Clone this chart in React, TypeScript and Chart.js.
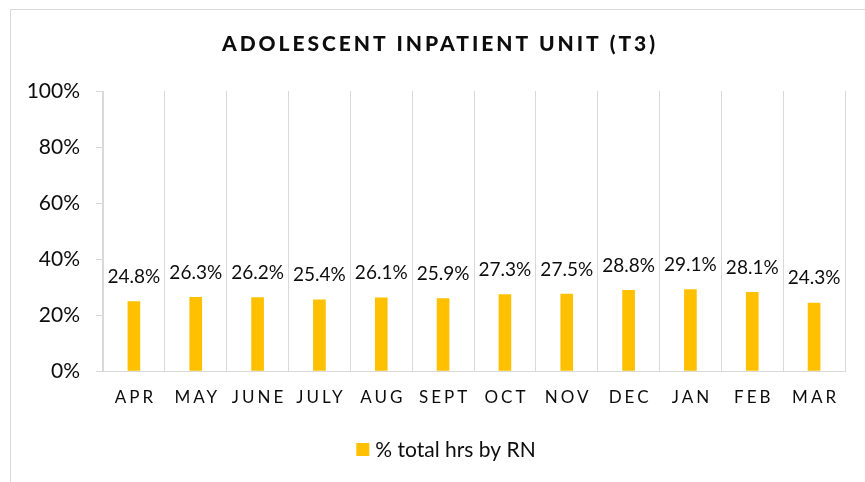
import React, { useEffect, useRef } from 'react';
import { Chart, registerables } from 'chart.js';
Chart.register(...registerables);

const months = ['APR', 'MAY', 'JUNE', 'JULY', 'AUG', 'SEPT', 'OCT', 'NOV', 'DEC', 'JAN', 'FEB', 'MAR'];
const rnShare = [24.8, 26.3, 26.2, 25.4, 26.1, 25.9, 27.3, 27.5, 28.8, 29.1, 28.1, 24.3];
const yTicks = [0, 20, 40, 60, 80, 100];
const chartTitle = 'ADOLESCENT INPATIENT UNIT (T3)';
const seriesName = '% total hrs by RN';

const BAR = '#FFC000';
const GRID = '#d9d9d9';
const TEXT = '#0d0d0d';
const FONT = 'Lato';

function spacedText(ctx: CanvasRenderingContext2D, text: string, cx: number, y: number, ls: number) {
  ctx.letterSpacing = '0px';
  const w0 = ctx.measureText(text).width;
  const vis = w0 + ls * (text.length - 1);
  ctx.letterSpacing = ls + 'px';
  ctx.textAlign = 'left';
  ctx.fillText(text, cx - vis / 2, y);
  ctx.letterSpacing = '0px';
}

const decor = {
  id: 'decor',
  beforeDraw(chart: any) {
    const ctx = chart.ctx as CanvasRenderingContext2D;
    ctx.save();
    ctx.fillStyle = '#ffffff';
    ctx.fillRect(0, 0, chart.width, chart.height);
    ctx.strokeStyle = GRID;
    ctx.lineWidth = 1;
    ctx.beginPath();
    ctx.moveTo(10.5, chart.height);
    ctx.lineTo(10.5, 9.5);
    ctx.lineTo(chart.width, 9.5);
    ctx.stroke();
    ctx.restore();
  },
  afterDraw(chart: any) {
    const ctx = chart.ctx as CanvasRenderingContext2D;
    ctx.save();
    ctx.fillStyle = TEXT;
    ctx.textBaseline = 'alphabetic';

    // title
    ctx.font = `900 21px ${FONT}`;
    ctx.letterSpacing = '0px';
    const tw = ctx.measureText(chartTitle).width;
    const tls = (433 - tw) / (chartTitle.length - 1);
    spacedText(ctx, chartTitle, 438.5, 51, tls);

    // x labels
    const xs = chart.scales.x;
    ctx.font = `17px ${FONT}`;
    months.forEach((m, i) => {
      spacedText(ctx, m, xs.getPixelForValue(i), 403, 3);
    });

    // data labels
    const meta = chart.getDatasetMeta(0);
    ctx.font = `19px ${FONT}`;
    ctx.textAlign = 'center';
    meta.data.forEach((el: any, i: number) => {
      ctx.fillText(rnShare[i].toFixed(1) + '%', el.x, el.y - 18.5);
    });

    // legend
    ctx.font = `21px ${FONT}`;
    const lw = ctx.measureText(seriesName).width;
    const box = 13;
    const gap = 6;
    const total = box + gap + lw;
    const lx = 446 - total / 2;
    ctx.fillStyle = BAR;
    ctx.fillRect(lx, 443, box, box);
    ctx.fillStyle = TEXT;
    ctx.textAlign = 'left';
    ctx.fillText(seriesName, lx + box + gap, 457);
    ctx.restore();
  },
};

export default function App() {
  const ref = useRef<HTMLCanvasElement>(null);
  useEffect(() => {
    if (!ref.current) return;
    const chart = new Chart(ref.current, {
      type: 'bar',
      data: {
        labels: months,
        datasets: [
          {
            label: seriesName,
            data: rnShare,
            backgroundColor: BAR,
            barThickness: 12,
          },
        ],
      },
      options: {
        responsive: false,
        animation: false,
        layout: { padding: { top: 91, right: 20, bottom: 0, left: 0 } },
        plugins: {
          legend: { display: false },
          title: { display: false },
          tooltip: { enabled: false },
        },
        scales: {
          x: {
            grid: { offset: true, color: GRID, drawTicks: false },
            border: { color: GRID },
            ticks: { display: false },
            afterFit(s: any) {
              s.height = 111;
            },
          },
          y: {
            min: 0,
            max: 100,
            afterBuildTicks(s: any) {
              s.ticks = yTicks.map((v) => ({ value: v }));
            },
            ticks: {
              callback: (v: any) => v + '%',
              font: { family: FONT, size: 21 },
              color: TEXT,
              padding: 16,
            },
            grid: { drawOnChartArea: false, color: GRID, tickLength: 7 },
            border: { color: GRID },
            afterFit(s: any) {
              s.width = 103;
            },
          },
        },
      },
      plugins: [decor],
    });
    return () => chart.destroy();
  }, []);
  return (
    <div style={{ position: 'fixed', left: 0, top: 0, width: 865, height: 482, background: '#fff' }}>
      <canvas ref={ref} width={865} height={482} style={{ display: 'block', width: 865, height: 482 }} />
    </div>
  );
}
